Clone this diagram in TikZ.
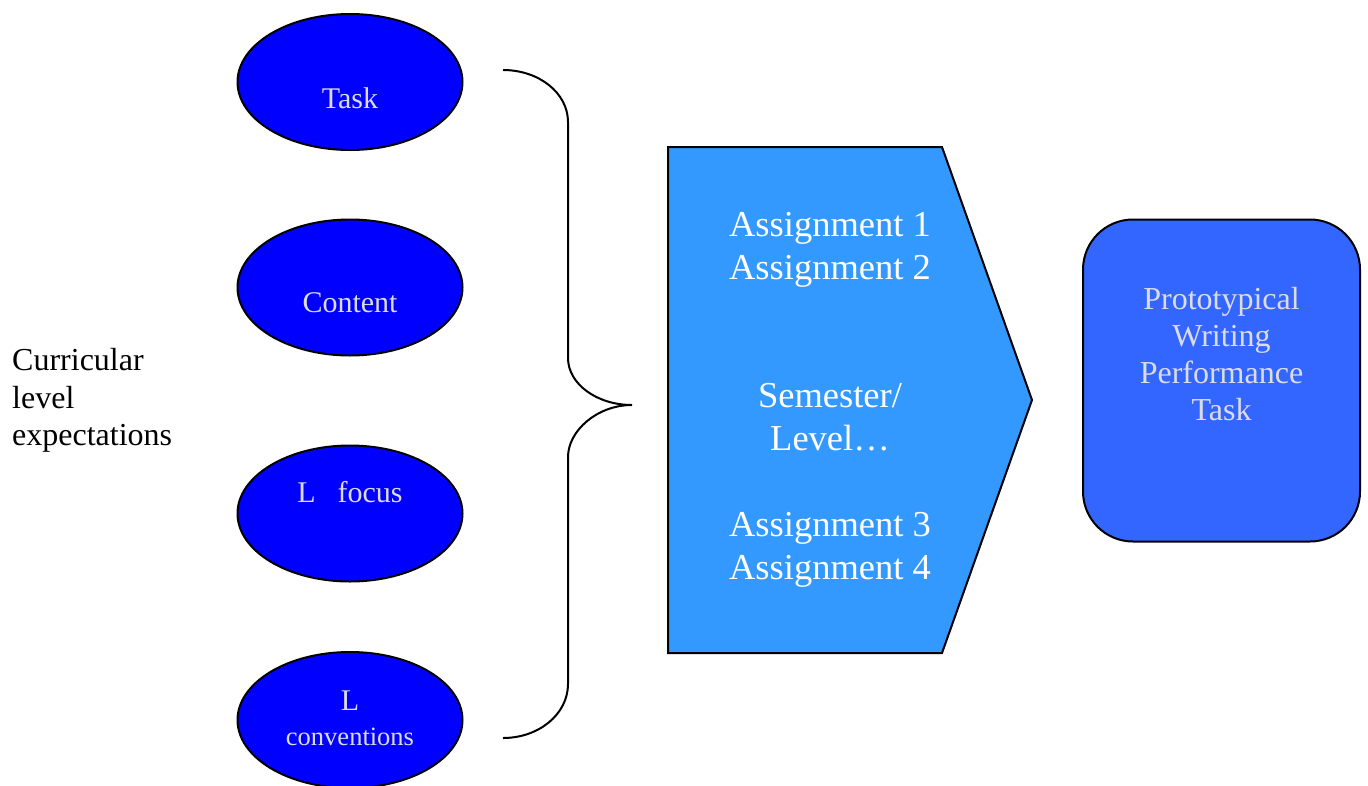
\documentclass[tikz,border=0pt]{standalone}
\usepackage{fontspec}
\setmainfont{Liberation Serif}
\usetikzlibrary{shapes.geometric}
\definecolor{ovalblue}{HTML}{0000FF}
\definecolor{arrowblue}{HTML}{3399FF}
\definecolor{boxblue}{HTML}{3366FF}
\definecolor{paletext}{HTML}{DCDCE6}
\begin{document}
\begin{tikzpicture}[x=1pt,y=-1pt,
  oval/.style={ellipse, draw=black, line width=2pt, fill=ovalblue,
    minimum width=225pt, minimum height=136pt, inner sep=0pt},
  ovaltext/.style={text=paletext, align=center, inner sep=0pt,
    font=\fontsize{30}{35}\selectfont},
  steptext/.style={text=white, align=center, inner sep=0pt,
    font=\fontsize{36.5}{43}\selectfont},
  goalbox/.style={rectangle, rounded corners=50pt, draw=black, line width=2pt,
    fill=boxblue, minimum width=277pt, minimum height=322pt, inner sep=0pt},
  goaltext/.style={text=paletext, align=center, inner sep=0pt,
    font=\fontsize{32}{37}\selectfont},
  sidetext/.style={text=black, align=left, inner sep=0pt, anchor=west,
    font=\fontsize{32}{37.5}\selectfont},
  bracepath/.style={draw=black, line width=2pt}]
\useasboundingbox (0,0) rectangle (1368,785);

% expectation ovals
\node[oval] (task) at (350,82) {};
\node[oval] (content) at (350,287.5) {};
\node[oval] (focus) at (350,513.5) {};
\node[oval] (conv) at (350,720) {};
\node[ovaltext] (tasklbl) at (350,98) {Task};
\node[ovaltext] (contentlbl) at (350,303) {Content};
\node[ovaltext] (focuslbl) at (350,492) {L\hspace{22pt}focus};
\node[ovaltext] (convlbl) at (350,718) {L\\{\fontsize{26.5}{35}\selectfont conventions}};

% side caption
\node[sidetext] (caption) at (12,400.5) {Curricular\\level\\expectations};

% brace gathering the ovals
\coordinate (btop) at (503,70);
\coordinate (bbot) at (503,738);
\coordinate (btip) at (632,405);
\path[bracepath]
  (btop) .. controls (539,70) and (568,93) .. (568,122)
  -- (568,358) .. controls (568,384) and (597,405) .. (btip)
  .. controls (597,405) and (568,431) .. (568,457)
  -- (568,684) .. controls (568,714) and (539,738) .. (bbot);

% assignment sequence (pentagon arrow)
\coordinate (pa) at (668,147);
\coordinate (pb) at (942,147);
\coordinate (pc) at (1032,400);
\coordinate (pd) at (942,653);
\coordinate (pe) at (668,653);
\path[fill=arrowblue, draw=black, line width=2pt, line join=miter]
  (pa) -- (pb) -- (pc) -- (pd) -- (pe) -- cycle;
\node[steptext] (a12) at (830,249.5) {Assignment 1\\Assignment 2};
\node[steptext] (sem) at (830,417) {Semester/\\Level…};
\node[steptext] (a34) at (830,549.5) {Assignment 3\\Assignment 4};

% final task box
\node[goalbox] (goal) at (1221.5,380.5) {};
\node[goaltext] (goallbl) at (1221.5,354) {Prototypical\\Writing\\Performance\\Task};
\end{tikzpicture}
\end{document}
